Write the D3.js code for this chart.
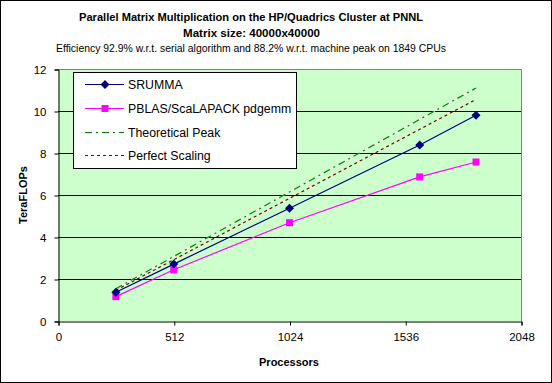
<!DOCTYPE html>
<html><head><meta charset="utf-8">
<script src="https://cdn.jsdelivr.net/npm/d3@7"></script>
<style>body{margin:0;background:#fff}svg{display:block}text{font-family:"Liberation Sans",Arial,sans-serif}</style>
</head><body><svg id="c" width="552" height="383"></svg>
<script>
const processors = [256, 512, 1024, 1600, 1849];
const srumma = [1.37, 2.71, 5.37, 8.38, 9.80];
const pblas = [1.16, 2.44, 4.68, 6.86, 7.57];
const theoreticalPeak = [1.536, 3.072, 6.144, 9.6, 11.094];
const perfectScaling = [1.46, 2.92, 5.84, 9.13, 10.55];
const xTicks = [0, 512, 1024, 1536, 2048];
const yTicks = [0, 2, 4, 6, 8, 10, 12];
const seriesNames = ["SRUMMA", "PBLAS/ScaLAPACK pdgemm", "Theoretical Peak", "Perfect Scaling"];

const svg = d3.select("#c");
svg.append("rect").attr("x",0.5).attr("y",0.5).attr("width",551).attr("height",382)
  .attr("fill","#fff").attr("stroke","#000");

const L=58, R=521, T=69, B=321;
const x = d3.scaleLinear().domain([0,2048]).range([L,R]);
const y = d3.scaleLinear().domain([0,12]).range([B,T]);

svg.append("rect").attr("x",L).attr("y",T).attr("width",R-L).attr("height",B-T).attr("fill","#CCFFCC");
svg.append("g").selectAll("line").data(yTicks.filter(d=>d>0&&d<12)).join("line")
  .attr("x1",L).attr("x2",R).attr("y1",d=>Math.round(y(d))+0.5).attr("y2",d=>Math.round(y(d))+0.5)
  .attr("stroke","#000");
svg.append("path").attr("d",`M${L},${T+0.5}H${R+0.5}V${B}`).attr("fill","none").attr("stroke","#808080");

const xAxis = d3.axisBottom(x).tickValues(xTicks).tickFormat(d3.format("d")).tickSize(4).tickPadding(7);
const gx = svg.append("g").attr("transform",`translate(0.5,${B+0.5})`).call(xAxis);
const yAxis = d3.axisLeft(y).tickValues(yTicks).tickFormat(d3.format("d")).tickSize(4).tickPadding(8);
const gy = svg.append("g").attr("transform",`translate(${L+0.5},0.5)`).call(yAxis);
[gx,gy].forEach(g=>{
  g.select(".domain").attr("stroke","#000");
  g.selectAll(".tick line").attr("stroke","#000");
  g.selectAll("text").attr("font-family","Liberation Sans, Arial, sans-serif").attr("font-size",11.5).attr("fill","#000");
});

const line = d3.line().x((d,i)=>x(processors[i])).y(d=>y(d));
svg.append("path").datum(theoreticalPeak).attr("d",line).attr("fill","none").attr("stroke","#fff").attr("stroke-width",1);
svg.append("path").datum(theoreticalPeak).attr("d",line).attr("fill","none").attr("stroke","#008000").attr("stroke-width",1.2).attr("stroke-dasharray","7,4,2,4");
svg.append("path").datum(perfectScaling).attr("d",line).attr("fill","none").attr("stroke","#800000").attr("stroke-width",1.2).attr("stroke-dasharray","3,3");
svg.append("path").datum(pblas).attr("d",line).attr("fill","none").attr("stroke","#FF00FF").attr("stroke-width",1.2);
svg.append("path").datum(srumma).attr("d",line).attr("fill","none").attr("stroke","#000080").attr("stroke-width",1.2);

svg.append("g").selectAll("rect").data(pblas).join("rect")
  .attr("x",(d,i)=>x(processors[i])-3.5).attr("y",d=>y(d)-3.5).attr("width",7).attr("height",7).attr("fill","#FF00FF");
const diamond = "M0,-4.5L4.5,0L0,4.5L-4.5,0Z";
svg.append("g").selectAll("path").data(srumma).join("path")
  .attr("d",diamond).attr("transform",(d,i)=>`translate(${x(processors[i])},${y(d)})`).attr("fill","#000080");

svg.append("text").attr("x",251).attr("y",21).attr("text-anchor","middle").attr("font-weight","bold").attr("font-size",11.5)
  .attr("textLength",344).attr("lengthAdjust","spacingAndGlyphs").text("Parallel Matrix Multiplication on the HP/Quadrics Cluster at PNNL");
svg.append("text").attr("x",251.5).attr("y",37).attr("text-anchor","middle").attr("font-weight","bold").attr("font-size",11.5)
  .attr("textLength",137).attr("lengthAdjust","spacingAndGlyphs").text("Matrix size: 40000x40000");
svg.append("text").attr("x",251).attr("y",52).attr("text-anchor","middle").attr("font-size",11)
  .attr("textLength",390).attr("lengthAdjust","spacingAndGlyphs").text("Efficiency 92.9% w.r.t. serial algorithm and 88.2% w.r.t. machine peak on 1849 CPUs");
svg.append("text").attr("x",289).attr("y",366).attr("text-anchor","middle").attr("font-weight","bold").attr("font-size",11).text("Processors");
svg.append("text").attr("transform","translate(27,195) rotate(-90)").attr("text-anchor","middle").attr("font-weight","bold").attr("font-size",11).text("TeraFLOPs");

const lg = svg.append("g");
lg.append("rect").attr("x",73.5).attr("y",72.5).attr("width",223).attr("height",96).attr("fill","#fff").attr("stroke","#000");
const rows = [84,108,132,155];
const styles = [
  {c:"#000080",dash:null,m:"d"},
  {c:"#FF00FF",dash:null,m:"s"},
  {c:"#008000",dash:"7,4,2,4",m:null},
  {c:"#800000",dash:"3,3",m:null}
];
seriesNames.forEach((n,i)=>{
  const yy=rows[i]+0.5, st=styles[i];
  lg.append("line").attr("x1",85).attr("x2",124).attr("y1",yy).attr("y2",yy).attr("stroke",st.c).attr("stroke-width",1.2)
    .attr("stroke-dasharray",st.dash);
  if(st.m==="d") lg.append("path").attr("d",diamond).attr("transform",`translate(105,${yy})`).attr("fill",st.c);
  if(st.m==="s") lg.append("rect").attr("x",101.5).attr("y",yy-3.5).attr("width",7).attr("height",7).attr("fill",st.c);
  lg.append("text").attr("x",128).attr("y",yy+4.5).attr("font-size",12.3).text(n);
});
</script></body></html>
